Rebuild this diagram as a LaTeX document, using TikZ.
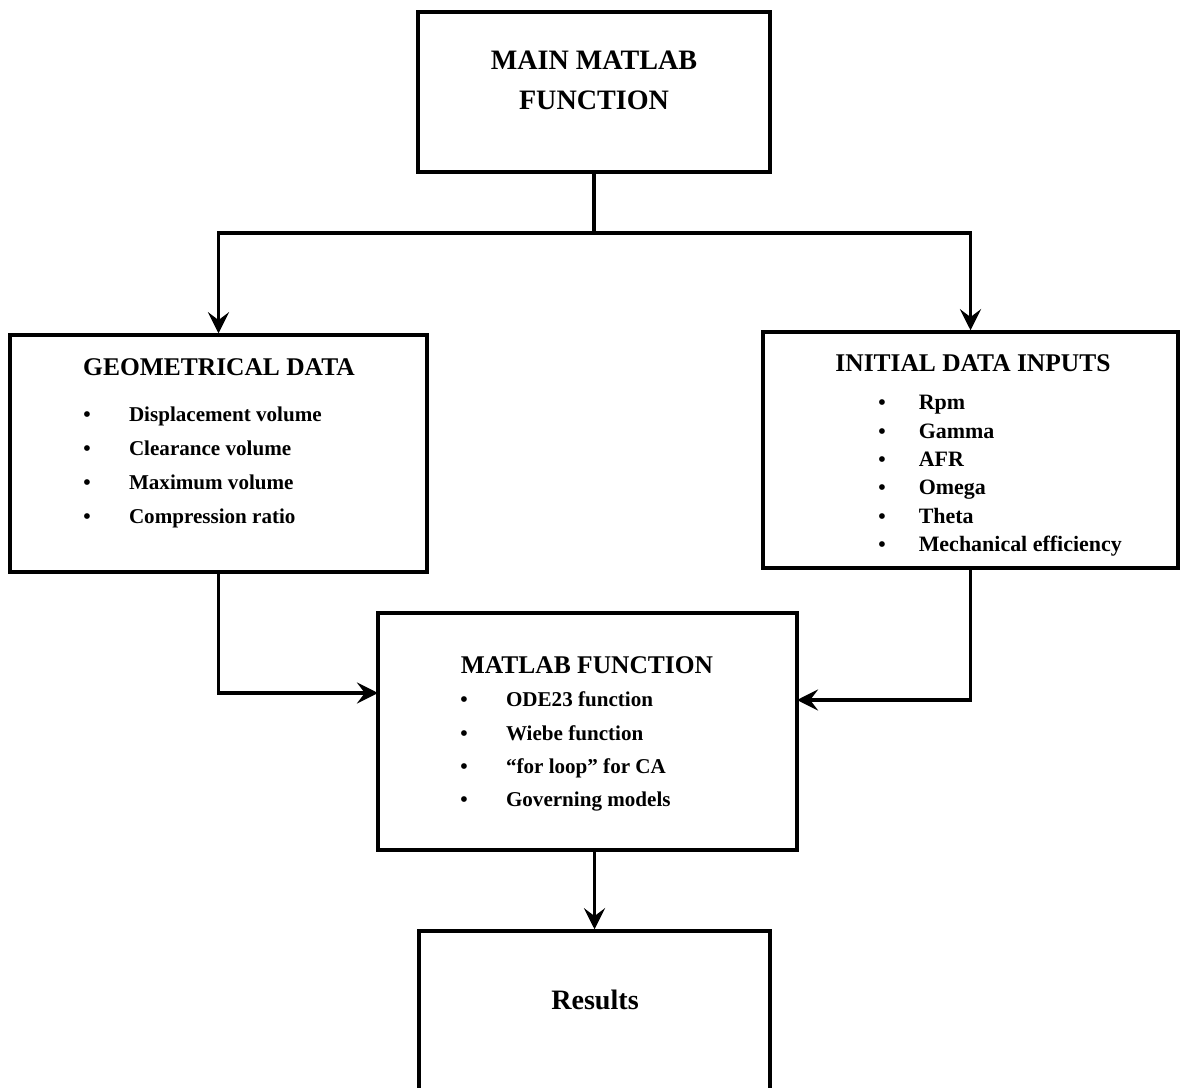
\documentclass[tikz,border=0pt]{standalone}
\usepackage{fontspec}
\setmainfont{Liberation Serif}
\usepackage{tikz}
\usetikzlibrary{arrows.meta, positioning}

\begin{document}
\begin{tikzpicture}[x=0.02cm, y=-0.02cm,
    box/.style={draw, line width=2pt, inner sep=0pt},
    title/.style={font=\bfseries\fontsize{14.5}{17}\selectfont},
    flow/.style={line width=2pt, -{Stealth[length=12pt, width=12pt, inset=4.5pt]}}]
    % Rahmen
    \useasboundingbox (0, 0) rectangle (1181, 1088);
    \clip (0, 0) rectangle (1181, 1088);

    % Kaesten
    \node[box, minimum width=7.04cm, minimum height=3.2cm] (main) at (594, 92) {};
    \node[box, minimum width=8.34cm, minimum height=4.74cm] (geo) at (218.5, 453.5) {};
    \node[box, minimum width=8.3cm, minimum height=4.72cm] (init) at (970.5, 450) {};
    \node[box, minimum width=8.38cm, minimum height=4.74cm] (fn) at (587.5, 731.5) {};
    \node[box, minimum width=7.02cm, minimum height=3.38cm] (res) at (594.5, 1015.5) {};

    % Texte
    \node[align=center, font=\bfseries\fontsize{16}{22.7}\selectfont] (maintxt) at (594, 80) {MAIN MATLAB\\FUNCTION};

    \node[title] (geotxt) at (219, 367) {GEOMETRICAL DATA};
    \node[anchor=west, inner sep=0pt, font=\bfseries\fontsize{12}{19.3}\selectfont] (geolist) at (83, 466) {%
        \begin{tabular}{@{}p{26pt}@{}l@{}}
        {\large\textbullet} & Displacement volume\\
        {\large\textbullet} & Clearance volume\\
        {\large\textbullet} & Maximum volume\\
        {\large\textbullet} & Compression ratio
        \end{tabular}};

    \node[title] (inittxt) at (973, 363) {INITIAL DATA INPUTS};
    \node[anchor=west, inner sep=0pt, font=\bfseries\fontsize{12.5}{16.1}\selectfont] (initlist) at (878, 475) {%
        \begin{tabular}{@{}p{23pt}@{}l@{}}
        {\large\textbullet} & Rpm\\
        {\large\textbullet} & Gamma\\
        {\large\textbullet} & AFR\\
        {\large\textbullet} & Omega\\
        {\large\textbullet} & Theta\\
        {\large\textbullet} & Mechanical efficiency
        \end{tabular}};

    \node[title] (fntxt) at (587, 665) {MATLAB FUNCTION};
    \node[anchor=west, inner sep=0pt, font=\bfseries\fontsize{12}{18.9}\selectfont] (fnlist) at (460, 750) {%
        \begin{tabular}{@{}p{26pt}@{}l@{}}
        {\large\textbullet} & ODE23 function\\
        {\large\textbullet} & Wiebe function\\
        {\large\textbullet} & ``for loop'' for CA\\
        {\large\textbullet} & Governing models
        \end{tabular}};

    \node[font=\bfseries\fontsize{16}{19}\selectfont] (restxt) at (595, 1000) {Results};

    % Verbindungen
    \coordinate (split) at (594, 233);
    \coordinate (geoin) at (378, 693);
    \coordinate (initin) at (797, 700);
    \draw[line width=2pt] (main.south) -- (split);
    \draw[flow] (split) -| (geo.north);
    \draw[flow] (split) -| (init.north);
    \draw[flow] (geo.south) |- (geoin);
    \draw[flow] (init.south) |- (initin);
    \draw[flow] (fn.south -| res.north) -- (res.north);
\end{tikzpicture}
\end{document}
